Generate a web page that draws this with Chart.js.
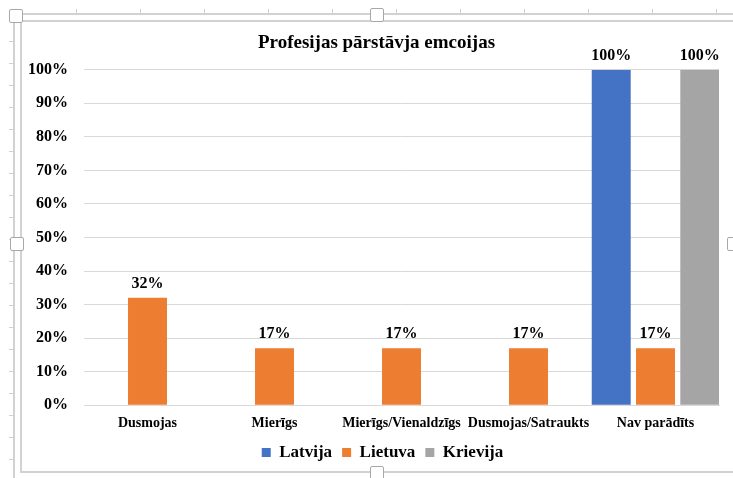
<!DOCTYPE html>
<html>
<head>
<meta charset="utf-8">
<script src="https://cdn.jsdelivr.net/npm/chart.js@4"></script>
<style>
  html, body { margin: 0; padding: 0; background: #fff; }
  #wrap { position: relative; width: 733px; height: 478px; overflow: hidden; }
  #wrap canvas { position: absolute; left: 0; top: 0; z-index: 2; }
  .line { position: absolute; background: #d2d2d2; z-index: 1; }
  .handle {
    position: absolute; width: 12px; height: 12px; z-index: 3;
    background: #fff; border: 1px solid #a8a8a8; border-radius: 2px;
  }
  /* little ruler marks along the outer frame */
  .rulerLeft {
    position: absolute; left: 9px; top: 20px; width: 4px; height: 458px; z-index: 1;
    background: repeating-linear-gradient(to bottom, transparent 0 21px, #cfcfcf 21px 22px);
  }
  .rulerTop {
    position: absolute; left: 20px; top: 9px; width: 713px; height: 4px; z-index: 1;
    background: repeating-linear-gradient(to right, transparent 0 56px, #cfcfcf 56px 57px, transparent 57px 64px);
  }
</style>
</head>
<body>
<div id="wrap">
  <!-- Excel selection frame -->
  <div class="rulerLeft"></div>
  <div class="rulerTop"></div>
  <div class="line" style="left:20px;top:13px;width:713px;height:2px"></div>
  <div class="line" style="left:13px;top:20px;width:2px;height:458px"></div>
  <div class="line" style="left:20px;top:20px;width:713px;height:2px"></div>
  <div class="line" style="left:20px;top:20px;width:2px;height:453px"></div>
  <div class="line" style="left:20px;top:471px;width:713px;height:2px"></div>
  <div class="handle" style="left:9px;top:9px"></div>
  <div class="handle" style="left:370px;top:8px"></div>
  <div class="handle" style="left:10px;top:237px"></div>
  <div class="handle" style="left:727px;top:237px"></div>
  <div class="handle" style="left:370px;top:466px"></div>
  <canvas id="chart" width="733" height="478"></canvas>
</div>
<script>
/* ---- Data ---- */
const categories = ["Dusmojas", "Mierīgs", "Mierīgs/Vienaldzīgs", "Dusmojas/Satraukts", "Nav parādīts"];
const latvija  = [null, null, null, null, 100];
const lietuva  = [32, 17, 17, 17, 17];
const krievija = [null, null, null, null, 100];
const seriesNames = ["Latvija", "Lietuva", "Krievija"];
const yTicks = [0, 10, 20, 30, 40, 50, 60, 70, 80, 90, 100];

const SERIF = "'Liberation Serif', 'Times New Roman', serif";

/* ---- Labels above bars (no datalabels plugin available) ---- */
const barLabels = {
  id: "barLabels",
  afterDatasetsDraw(chart){
    const ctx = chart.ctx;
    ctx.save();
    ctx.font = "bold 16px " + SERIF;
    ctx.fillStyle = "#000";
    ctx.textAlign = "center";
    ctx.textBaseline = "bottom";
    chart.data.datasets.forEach((ds, i) => {
      const meta = chart.getDatasetMeta(i);
      meta.data.forEach((bar, j) => {
        const v = ds.data[j];
        if(v == null) return;
        ctx.fillText(v + "%", bar.x, bar.y - 6);
      });
    });
    ctx.restore();
  }
};

/* ---- Layout nudges ----
   left padding is wide so the title sits centred like Excel,
   so give the y axis its room back (its labels are clipped to the box) */
const layoutNudge = {
  id: "layoutNudge",
  afterLayout(chart){
    chart.scales.y.left = 20;
    const lg = chart.legend;
    if(lg){
      lg.top -= 8; lg.bottom -= 8;
      lg.left += 6; lg.right += 6;
    }
  }
};

const canvas = document.getElementById("chart");
new Chart(canvas, {
  type: "bar",
  data: {
    labels: categories,
    datasets: [
      { label: seriesNames[0], data: latvija,  backgroundColor: "#4472C4" },
      { label: seriesNames[1], data: lietuva,  backgroundColor: "#ED7D31" },
      { label: seriesNames[2], data: krievija, backgroundColor: "#A5A5A5" }
    ]
  },
  options: {
    responsive: false,
    animation: false,
    categoryPercentage: 1.046,
    barPercentage: 0.88,
    layout: { padding: { left: 34, right: 14, top: 0, bottom: -1 } },
    plugins: {
      title: {
        display: true,
        text: "Profesijas pārstāvja emcoijas",
        color: "#000",
        font: { family: SERIF, size: 19, weight: "bold" },
        padding: { top: 32, bottom: 15 }
      },
      legend: {
        position: "bottom",
        labels: {
          color: "#000",
          font: { family: SERIF, size: 17, weight: "bold" },
          boxWidth: 9,
          boxHeight: 9,
          padding: 10
        }
      },
      tooltip: { enabled: false }
    },
    scales: {
      x: {
        grid: { display: false, drawTicks: false },
        border: { color: "#d9d9d9" },
        ticks: {
          color: "#000",
          font: { family: SERIF, size: 14, weight: "bold" },
          padding: 10,
          maxRotation: 0,
          autoSkip: false
        }
      },
      y: {
        min: 0,
        max: 100,
        afterFit(scale){ scale.width = 50; },
        afterBuildTicks(scale){ scale.ticks = yTicks.map(v => ({ value: v })); },
        grid: { color: "#d9d9d9", drawTicks: false },
        border: { display: false },
        ticks: {
          color: "#000",
          font: { family: SERIF, size: 16, weight: "bold" },
          padding: 16,
          callback: v => v + "%"
        }
      }
    }
  },
  plugins: [barLabels, layoutNudge]
});
</script>
</body>
</html>
